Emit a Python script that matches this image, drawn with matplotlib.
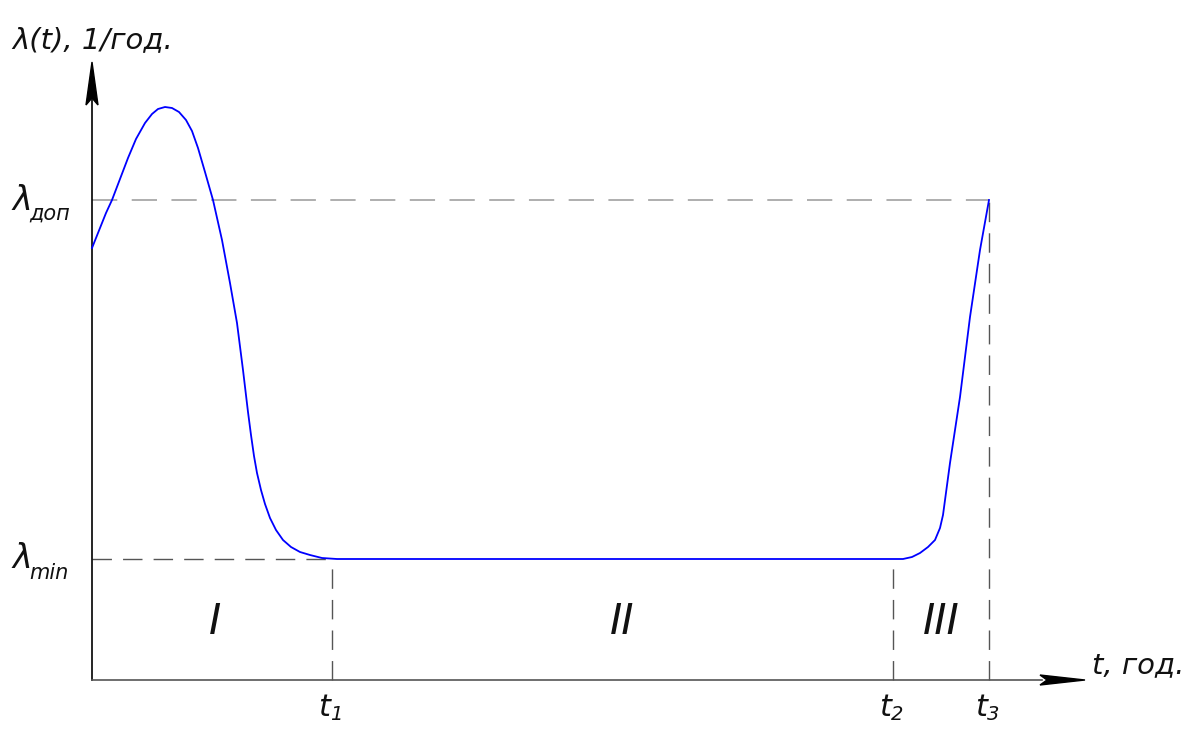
import matplotlib.pyplot as plt
from matplotlib.patches import Polygon

# curve (t, lambda) in arbitrary units
t_vals = [0, 8, 14, 20, 28, 36, 44, 53, 60, 66, 73, 80, 87, 94, 100, 106, 113,
          121, 130, 138, 145, 151, 156, 159, 162, 165, 169, 173, 178, 184, 191, 199,
          208, 218, 230, 245,
          801, 811, 820, 828, 836, 843, 848, 851, 858, 868, 878, 888, 897]
lam_vals = [432, 452, 467, 480, 501, 522, 541, 557, 566, 571, 573, 572, 568, 560, 549, 532, 508,
            480, 440, 397, 357, 310, 268, 245, 224, 207, 190, 176, 162, 150, 140, 133,
            128, 125, 122, 121,
            121, 121, 123, 127, 133, 140, 152, 165, 217, 283, 363, 430, 480]

t1, t2, t3 = 240, 801, 897
lam_min, lam_dop = 121, 480
zone_labels = ['I', 'II', 'III']

fig = plt.figure(figsize=(11.87, 7.29), dpi=100)
ax = fig.add_axes([0, 0, 1, 1])
ax.set_xlim(-92, 1095)
ax.set_ylim(-49, 680)
ax.axis('off')

kw = dict(family=['DejaVu Sans'], style='italic', color='#111111')

# guide lines
ax.plot([0, t3], [lam_dop, lam_dop], color='#a8a8a8', lw=1.3, dashes=(14, 8))
ax.plot([0, t1], [lam_min, lam_min], color='#555555', lw=1.0, dashes=(14, 8))
for tx in (t1, t2, t3):
    top = lam_dop if tx == t3 else lam_min
    ax.plot([tx, tx], [0, top], color='#555555', lw=1.0, dashes=(14, 8))

# axes
ax.plot([0, 0], [0, 590], color='black', lw=1.2)
ax.plot([0, 950], [0, 0], color='#555555', lw=1.2)
ax.add_patch(Polygon([[0, 618], [-6, 575], [0, 582], [6, 575]], closed=True, color='black'))
ax.add_patch(Polygon([[993, 0], [948, 5], [955, 0], [948, -5]], closed=True, color='black'))

# curve
ax.plot(t_vals, lam_vals, color='#0000ff', lw=1.3, solid_joinstyle='round')

# texts
ax.text(-80, 640, 'λ(t), 1/год.', fontsize=21, va='center', **kw)
ax.text(-80, 480, 'λ', fontsize=24, va='center', **kw)
ax.text(-63, 466, 'доп', fontsize=15, va='center', **kw)
ax.text(-80, 121, 'λ', fontsize=24, va='center', **kw)
ax.text(-63, 107, 'min', fontsize=15, va='center', **kw)
for tx, sub in ((t1, '1'), (t2, '2'), (t3, '3')):
    ax.text(tx - 14, -27, 't', fontsize=22, va='center', **kw)
    ax.text(tx - 2, -35, sub, fontsize=14, va='center', **kw)
ax.text(1000, 15, 't, год.', fontsize=21, va='center', **kw)
for xc, lab in zip([(0 + t1) / 2 + 3, (t1 + t2) / 2 + 10, (t2 + t3) / 2], zone_labels):
    ax.text(xc, 58, lab, fontsize=30, ha='center', va='center', **kw)

fig.savefig('out.png', dpi=100)
